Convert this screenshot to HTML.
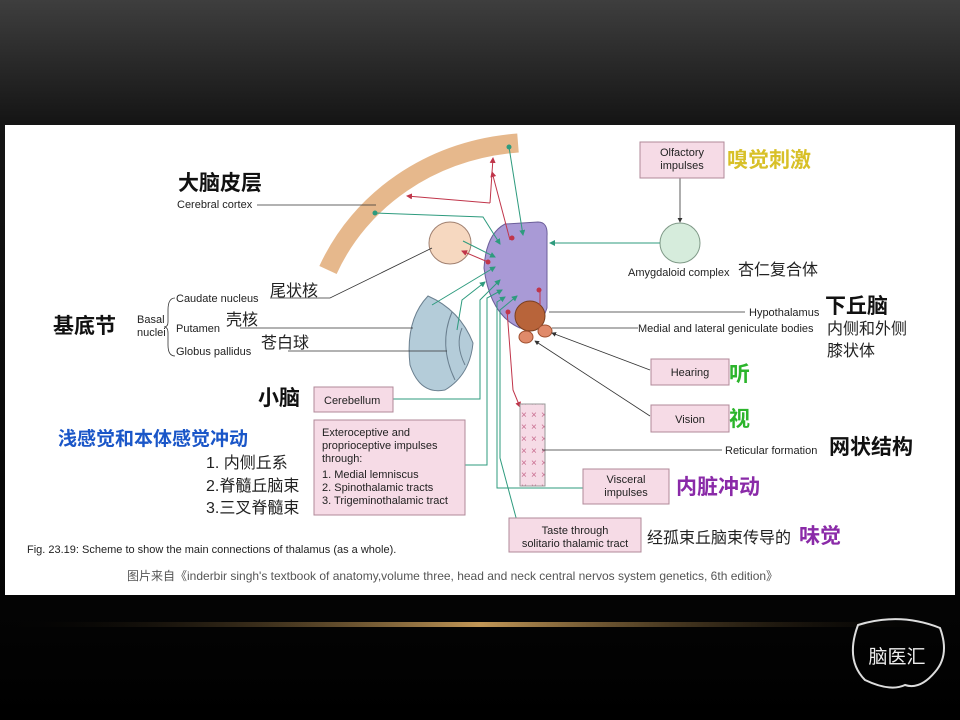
<!DOCTYPE html><html><head><meta charset="utf-8"><style>
html,body{margin:0;padding:0;width:960px;height:720px;overflow:hidden;background:#000}
svg text{font-family:"Liberation Sans","Noto Sans CJK SC",sans-serif}
</style></head><body>
<svg width="960" height="720" viewBox="0 0 960 720" xmlns="http://www.w3.org/2000/svg">
<defs>
<linearGradient id="bg" x1="0" y1="0" x2="0" y2="1"><stop offset="0" stop-color="#3e3e3e"/><stop offset="0.17" stop-color="#151515"/><stop offset="1" stop-color="#000"/></linearGradient>
<linearGradient id="gold" x1="0" y1="0" x2="1" y2="0"><stop offset="0" stop-color="#000" stop-opacity="0"/><stop offset="0.5" stop-color="#d8a860"/><stop offset="1" stop-color="#000" stop-opacity="0"/></linearGradient>
<marker id="ag" markerWidth="6" markerHeight="6" refX="5" refY="3" orient="auto"><path d="M0,0L6,3L0,6z" fill="#2e9b7e"/></marker>
<marker id="ar" markerWidth="6" markerHeight="6" refX="5" refY="3" orient="auto"><path d="M0,0L6,3L0,6z" fill="#c0354a"/></marker>
<marker id="ak" markerWidth="6" markerHeight="6" refX="5" refY="3" orient="auto"><path d="M0,0L6,3L0,6z" fill="#333"/></marker>
<pattern id="xx" width="10" height="12" patternUnits="userSpaceOnUse"><rect width="10" height="12" fill="#f6dbe6"/><text x="1" y="10" font-size="10" fill="#c86b8e">×</text></pattern>
</defs>
<rect width="960" height="720" fill="url(#bg)"/>
<rect x="0" y="622" width="960" height="5" fill="url(#gold)" opacity="0.9"/>
<rect x="5" y="125" width="950" height="470" fill="#fff"/>
<!-- cortex -->
<path d="M328,270 C360,200 430,150 518,143" fill="none" stroke="#e6b88c" stroke-width="19"/>
<!-- basal nuclei -->
<path d="M428,296 Q460,310 473,343 Q470,375 445,390 Q420,395 410,365 Q405,320 428,296Z" fill="#b4ccd9" stroke="#6a7f8f" stroke-width="1"/>
<path d="M452,312 Q438,345 455,380" fill="none" stroke="#6a7f8f"/>
<path d="M462,328 Q455,345 465,365" fill="none" stroke="#6a7f8f"/>
<circle cx="450" cy="243" r="21" fill="#f6d8c0" stroke="#a08070"/>
<!-- thalamus -->
<path d="M505,224 L538,222 Q548,222 547,236 L547,308 Q540,330 520,328 Q490,315 484,268 Q486,234 505,224Z" fill="#a99ad6" stroke="#6c5f9a"/>
<circle cx="530" cy="316" r="15" fill="#b8643a" stroke="#7a3f20"/>
<ellipse cx="545" cy="331" rx="7" ry="6" fill="#e08a6a" stroke="#a05030"/>
<ellipse cx="526" cy="337" rx="7" ry="6" fill="#e08a6a" stroke="#a05030"/>
<circle cx="680" cy="243" r="20" fill="#d6ecdc" stroke="#809a88"/>
<!-- arrows -->
<g stroke="#c0354a" stroke-width="1" fill="none">
<path d="M510,240 L492,172" marker-end="url(#ar)"/><path d="M490,203 L407,196" marker-end="url(#ar)"/>
<path d="M490,203 L493,158" marker-end="url(#ar)"/>
<path d="M488,262 L462,251" marker-end="url(#ar)"/><path d="M540,305 L540,290"/><path d="M507,310 L513,390 L520,407" marker-end="url(#ar)"/>
</g>
<g fill="#c0354a"><circle cx="512" cy="238" r="2.5"/><circle cx="488" cy="262" r="2.5"/><circle cx="539" cy="290" r="2.5"/><circle cx="508" cy="312" r="2.5"/></g>
<g stroke="#2e9b7e" stroke-width="1" fill="none">
<path d="M509,147 L523,235" marker-end="url(#ag)"/>
<path d="M375,213 L483,217 L500,244" marker-end="url(#ag)"/>
<path d="M463,241 L495,257" marker-end="url(#ag)"/>
<path d="M660,243 L550,243" marker-end="url(#ag)"/>
<path d="M432,305 L495,267" marker-end="url(#ag)"/>
<path d="M457,330 L462,300 L485,282" marker-end="url(#ag)"/>
<path d="M393,399 L480,399 L480,300 L500,280" marker-end="url(#ag)"/>
<path d="M465,465 L487,465 L487,298 L502,290" marker-end="url(#ag)"/>
<path d="M583,488 L497,488 L497,302 L505,297" marker-end="url(#ag)"/>
<path d="M518,525 L500,458 L500,310 L517,296" marker-end="url(#ag)"/>
</g>
<circle cx="375" cy="213" r="2.5" fill="#2e9b7e"/><circle cx="509" cy="147" r="2.5" fill="#2e9b7e"/>
<rect x="520" y="404" width="25" height="82" fill="url(#xx)" stroke="#999"/>
<g stroke="#333" stroke-width="0.8" fill="none">
<path d="M257,205 L376,205"/>
<path d="M270,298 L330,298 L432,248"/><path d="M240,328 L413,328"/><path d="M288,351 L447,351"/>
<path d="M680,178 L680,222" marker-end="url(#ak)"/>
<path d="M549,312 L745,312"/><path d="M552,328 L638,328"/>
<path d="M650,370 L552,333" marker-end="url(#ak)"/>
<path d="M650,416 L535,341" marker-end="url(#ak)"/>
<path d="M722,450 L542,450"/>
<path d="M175,298 Q168,298 168,310 L168,322 Q168,327 164,327 Q168,327 168,333 L168,345 Q168,356 175,356"/>
</g>
<!-- boxes -->
<g fill="#f6dbe6" stroke="#b08898">
<rect x="640" y="142" width="84" height="36"/>
<rect x="314" y="387" width="79" height="25"/>
<rect x="314" y="420" width="151" height="95"/>
<rect x="651" y="359" width="78" height="26"/>
<rect x="651" y="405" width="78" height="27"/>
<rect x="583" y="469" width="86" height="35"/>
<rect x="509" y="518" width="132" height="34"/>
</g>
<g font-size="11" fill="#222">
<text x="682" y="156" text-anchor="middle">Olfactory</text><text x="682" y="169" text-anchor="middle">impulses</text>
<text x="324" y="404">Cerebellum</text>
<text x="322" y="436">Exteroceptive and</text><text x="322" y="449">proprioceptive impulses</text><text x="322" y="462">through:</text>
<text x="322" y="478">1. Medial lemniscus</text><text x="322" y="491">2. Spinothalamic tracts</text><text x="322" y="504">3. Trigeminothalamic tract</text>
<text x="690" y="376" text-anchor="middle">Hearing</text><text x="690" y="423" text-anchor="middle">Vision</text>
<text x="626" y="483" text-anchor="middle">Visceral</text><text x="626" y="496" text-anchor="middle">impulses</text>
<text x="575" y="534" text-anchor="middle">Taste through</text><text x="575" y="547" text-anchor="middle">solitario thalamic tract</text>
<text x="177" y="208">Cerebral cortex</text>
<text x="137" y="323">Basal</text><text x="137" y="336">nuclei</text>
<text x="176" y="302">Caudate nucleus</text><text x="176" y="332">Putamen</text><text x="176" y="355">Globus pallidus</text>
<text x="628" y="276">Amygdaloid complex</text>
<text x="749" y="316">Hypothalamus</text>
<text x="638" y="332">Medial and lateral geniculate bodies</text>
<text x="725" y="454">Reticular formation</text>
<text x="27" y="553">Fig. 23.19: Scheme to show the main connections of thalamus (as a whole).</text>
</g>
<text x="127" y="580" font-size="12" fill="#555">图片来自《inderbir singh's textbook of anatomy,volume three, head and neck central nervos system genetics, 6th edition》</text>
<g font-size="16" fill="#222">
<text x="270" y="296">尾状核</text><text x="226" y="325">壳核</text><text x="261" y="348">苍白球</text>
<text x="738" y="275">杏仁复合体</text>
<text x="827" y="334">内侧和外侧</text><text x="827" y="356">膝状体</text>
<text x="206" y="468">1. 内侧丘系</text><text x="206" y="491">2.脊髓丘脑束</text><text x="206" y="513">3.三叉脊髓束</text>
<text x="647" y="543">经孤束丘脑束传导的</text>
</g>
<g font-size="21" font-weight="bold">
<text x="178" y="190" fill="#111">大脑皮层</text>
<text x="53" y="333" fill="#111">基底节</text>
<text x="258" y="405" fill="#111">小脑</text>
<text x="58" y="445" fill="#1a56c8" font-size="19">浅感觉和本体感觉冲动</text>
<text x="727" y="167" fill="#d8c028">嗅觉刺激</text>
<text x="825" y="313" fill="#111">下丘脑</text>
<text x="729" y="381" fill="#2cb52c">听</text>
<text x="729" y="426" fill="#2cb52c">视</text>
<text x="829" y="454" fill="#111">网状结构</text>
<text x="676" y="494" fill="#8a2aa8">内脏冲动</text>
<text x="799" y="543" fill="#8a2aa8">味觉</text>
</g>
<!-- logo -->
<path d="M858,625 Q900,612 940,628 Q950,655 935,672 Q920,690 905,685 Q890,692 865,680 Q845,660 858,625Z" fill="none" stroke="#ddd" stroke-width="2"/>
<text x="897" y="663" font-size="19" fill="#eee" text-anchor="middle">脑医汇</text>
</svg>
</body></html>
